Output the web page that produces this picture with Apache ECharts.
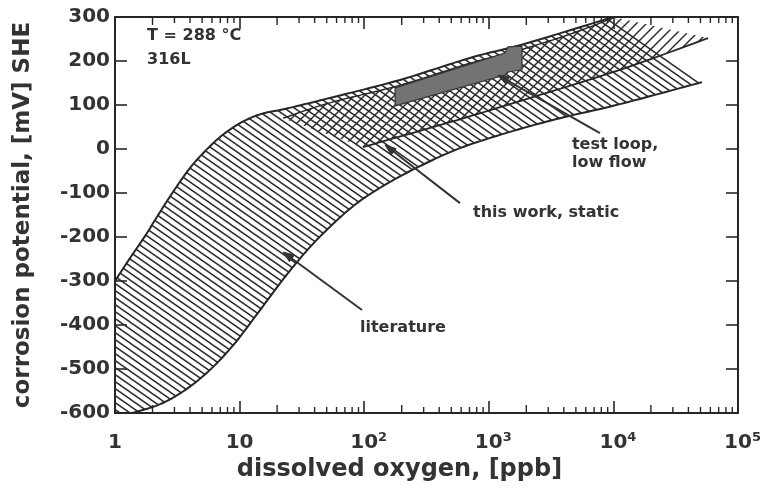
<!DOCTYPE html>
<html>
<head>
<meta charset="utf-8">
<script src="https://cdn.jsdelivr.net/npm/echarts@6/dist/echarts.min.js"></script>
<style>
  html, body { margin: 0; padding: 0; background: #fff; }
  #chart { width: 765px; height: 492px; }
</style>
</head>
<body>
<div id="chart"></div>
<script>
// Literature band: dissolved oxygen (ppb) vs corrosion potential (mV SHE)
const litUpperX = [1, 1.32, 1.74, 2.3, 3.03, 4.0, 5.28, 6.96, 9.19, 12.1, 16.0, 23.1, 53, 194, 706, 1780, 4490, 10000];
const litUpperY = [-300, -248, -198, -143, -91, -43, -5, 27, 52, 70, 82, 91, 116, 157, 207, 236, 270, 300];
const litLowerX = [1.37, 2.3, 3.65, 5.79, 9.19, 14.6, 23.1, 36.7, 58.3, 92.5, 161, 280, 587, 1480, 3730, 11300, 51400];
const litLowerY = [-600, -580, -548, -502, -441, -366, -291, -223, -166, -118, -75, -39, 2, 39, 70, 102, 152];

// This work, static autoclave
const workUpperX = [22.3, 53, 194, 706, 1780, 4490, 10000];
const workUpperY = [70, 105, 145, 195, 225, 261, 298];
const workLowerX = [98, 489, 1780, 11300, 57500];
const workLowerY = [4.5, 61, 109, 180, 252];

// Test loop, low flow
const loopX = [177, 1349, 1427, 1847, 1847, 1427, 1349, 177];
const loopY = [139, 218, 232, 234, 180, 175, 168, 98];

// Annotations
const noteText = ['T = 288 °C', '316L', 'literature', 'this work, static', 'test loop,', 'low flow'];
const noteX = [1.81, 1.81, 92.5, 747, 4650, 4650];
const noteY = [257, 202, -407, -145, 9, -32];

const arrowFromX = [96, 587, 7800];
const arrowFromY = [-366, -123, 36];
const arrowToX = [22.3, 147, 1186];
const arrowToY = [-234, 9, 168];

// Axes
const xMin = 1, xMax = 100000;
const yMin = -600, yMax = 300, yStep = 100;
const decades = [1, 10, 100, 1000, 10000];
const minorSteps = [2, 3, 4, 5, 6, 7, 8, 9];

const INK = '#262626';
const FONT = '"DejaVu Sans", "Liberation Sans", sans-serif';

// Tileable single-direction hatch used as a fill pattern
function hatchPattern(w, h, rising) {
  const c = document.createElement('canvas');
  c.width = w; c.height = h;
  const ctx = c.getContext('2d');
  ctx.strokeStyle = '#2a2a2a';
  ctx.lineWidth = 1.45;
  for (let k = -2; k <= 2; k++) {
    ctx.beginPath();
    if (rising) {
      ctx.moveTo(k * w - w, 2 * h);
      ctx.lineTo(k * w + 2 * w, -h);
    } else {
      ctx.moveTo(k * w - w, -h);
      ctx.lineTo(k * w + 2 * w, 2 * h);
    }
    ctx.stroke();
  }
  return { image: c, repeat: 'repeat' };
}
const fallingHatch = hatchPattern(10, 7, false);
const risingHatch = hatchPattern(10, 10, true);

function pts(api, xs, ys) {
  return xs.map((x, i) => api.coord([x, ys[i]]));
}

// Catmull-Rom through the projected points, so outlines and fills share one smooth edge
function smooth(p, n) {
  if (p.length < 3) return p.slice();
  const out = [];
  for (let i = 0; i < p.length - 1; i++) {
    const p0 = p[Math.max(i - 1, 0)], p1 = p[i], p2 = p[i + 1], p3 = p[Math.min(i + 2, p.length - 1)];
    for (let s = 0; s < n; s++) {
      const t = s / n, t2 = t * t, t3 = t2 * t;
      const f = (k) => 0.5 * (2 * p1[k] + (-p0[k] + p2[k]) * t +
        (2 * p0[k] - 5 * p1[k] + 4 * p2[k] - p3[k]) * t2 +
        (-p0[k] + 3 * p1[k] - 3 * p2[k] + p3[k]) * t3);
      out.push([f(0), f(1)]);
    }
  }
  out.push(p[p.length - 1]);
  return out;
}
const curve = (api, xs, ys) => smooth(pts(api, xs, ys), 12);

function shapeSeries(name, z, build) {
  return {
    name, type: 'custom', coordinateSystem: 'cartesian2d', z,
    xAxisIndex: 0, yAxisIndex: 0, silent: true,
    data: [[1, 0]],
    renderItem: (params, api) => build(api)
  };
}

const chart = echarts.init(document.getElementById('chart'), null, { renderer: 'canvas' });

const axisCommon = {
  axisLine: { show: true, onZero: false, lineStyle: { color: INK, width: 2 } },
  axisTick: { show: true, inside: true, length: 12, lineStyle: { color: INK, width: 1.6 } },
  splitLine: { show: false }
};

chart.setOption({
  animation: false,
  backgroundColor: '#fff',
  grid: { left: 115, top: 17, right: 27, bottom: 79, containLabel: false },
  xAxis: [
    Object.assign({}, axisCommon, {
      type: 'log', logBase: 10, min: xMin, max: xMax, position: 'bottom',
      name: 'dissolved oxygen, [ppb]', nameLocation: 'middle', nameGap: 45,
      nameTextStyle: { fontFamily: FONT, fontWeight: 'bold', fontSize: 24, color: '#333', padding: [0, 54, 0, 0] },
      axisLabel: {
        margin: 18,
        formatter: (v) => {
          const e = Math.round(Math.log10(v));
          if (e === 0) return '{b|1}';
          if (e === 1) return '{b|10}';
          return '{pad|}{b|10}{sup|' + e + '}';
        },
        rich: {
          b: { fontFamily: FONT, fontWeight: 'bold', fontSize: 20, color: '#333', lineHeight: 24 },
          sup: { fontFamily: FONT, fontWeight: 'bold', fontSize: 13, color: '#333', verticalAlign: 'top', lineHeight: 14 },
          pad: { width: 9 }
        }
      }
    }),
    Object.assign({}, axisCommon, {
      type: 'log', logBase: 10, min: xMin, max: xMax, position: 'top',
      axisLabel: { show: false }
    })
  ],
  yAxis: [
    Object.assign({}, axisCommon, {
      type: 'value', min: yMin, max: yMax, interval: yStep, position: 'left',
      name: 'corrosion potential, [mV] SHE', nameLocation: 'middle', nameGap: 80,
      nameTextStyle: { fontFamily: FONT, fontWeight: 'bold', fontSize: 23, color: '#333' },
      axisLabel: { margin: 5, fontFamily: FONT, fontWeight: 'bold', fontSize: 20, color: '#333' }
    }),
    Object.assign({}, axisCommon, {
      type: 'value', min: yMin, max: yMax, interval: yStep, position: 'right',
      axisLabel: { show: false }
    })
  ],
  series: [
    shapeSeries('literature', 2, (api) => {
      const up = curve(api, litUpperX, litUpperY);
      const lo = curve(api, litLowerX, litLowerY);
      const corner = api.coord([xMin, yMin]);
      return {
        type: 'polygon',
        shape: { points: up.concat(lo.slice().reverse(), [corner]) },
        style: { fill: fallingHatch, stroke: null }
      };
    }),
    shapeSeries('this work, static', 3, (api) => {
      const up = curve(api, workUpperX, workUpperY);
      const lo = curve(api, workLowerX, workLowerY);
      const top = api.coord([10000, yMax]);
      return {
        type: 'polygon',
        shape: { points: up.concat([top], lo.slice().reverse()) },
        style: { fill: risingHatch, stroke: null }
      };
    }),
    shapeSeries('boundaries', 4, (api) => ({
      type: 'group',
      children: [
        { type: 'polyline', shape: { points: curve(api, litUpperX, litUpperY) }, style: { fill: null, stroke: INK, lineWidth: 2 } },
        { type: 'polyline', shape: { points: curve(api, litLowerX, litLowerY) }, style: { fill: null, stroke: INK, lineWidth: 2 } },
        { type: 'polyline', shape: { points: curve(api, workUpperX, workUpperY) }, style: { fill: null, stroke: INK, lineWidth: 1.4 } },
        { type: 'polyline', shape: { points: curve(api, workLowerX, workLowerY) }, style: { fill: null, stroke: INK, lineWidth: 1.8 } }
      ]
    })),
    shapeSeries('test loop, low flow', 5, (api) => ({
      type: 'polygon',
      shape: { points: pts(api, loopX, loopY) },
      style: { fill: '#737373', stroke: '#333', lineWidth: 1.2 }
    })),
    shapeSeries('minor ticks', 6, (api) => {
      const children = [];
      decades.forEach((d) => {
        minorSteps.forEach((m) => {
          const v = d * m;
          const len = m === 2 ? 8 : 6;
          const b = api.coord([v, yMin]);
          const t = api.coord([v, yMax]);
          children.push({ type: 'line', shape: { x1: b[0], y1: b[1], x2: b[0], y2: b[1] - len }, style: { stroke: INK, lineWidth: 1.4 } });
          children.push({ type: 'line', shape: { x1: t[0], y1: t[1], x2: t[0], y2: t[1] + len }, style: { stroke: INK, lineWidth: 1.4 } });
        });
      });
      return { type: 'group', children };
    }),
    shapeSeries('arrows', 7, (api) => {
      const children = [];
      arrowFromX.forEach((fx, i) => {
        const a = api.coord([fx, arrowFromY[i]]);
        const b = api.coord([arrowToX[i], arrowToY[i]]);
        const ang = Math.atan2(b[1] - a[1], b[0] - a[0]);
        const hl = 11, hw = 4;
        const bx = b[0] - hl * Math.cos(ang), by = b[1] - hl * Math.sin(ang);
        children.push({ type: 'line', shape: { x1: a[0], y1: a[1], x2: bx, y2: by }, style: { stroke: '#333', lineWidth: 2 } });
        children.push({
          type: 'polygon',
          shape: { points: [b, [bx - hw * Math.sin(ang), by + hw * Math.cos(ang)], [bx + hw * Math.sin(ang), by - hw * Math.cos(ang)]] },
          style: { fill: '#333', stroke: '#333', lineWidth: 1 }
        });
      });
      return { type: 'group', children };
    }),
    shapeSeries('notes', 8, (api) => ({
      type: 'group',
      children: noteText.map((t, i) => {
        const p = api.coord([noteX[i], noteY[i]]);
        return {
          type: 'text', x: p[0], y: p[1],
          style: { text: t, fill: '#333', font: 'bold 16px ' + FONT, align: 'left', verticalAlign: 'middle' }
        };
      })
    }))
  ]
});
</script>
</body>
</html>
